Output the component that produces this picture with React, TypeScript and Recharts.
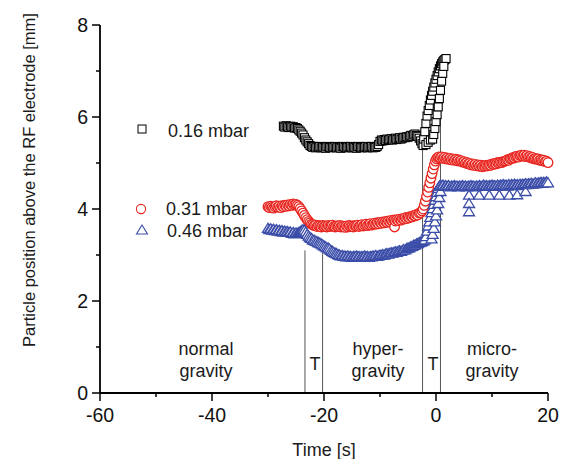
import React from 'react';
import { ComposedChart, Scatter, XAxis, YAxis, ReferenceLine, Customized } from 'recharts';

// Time [s], position [mm] — 0.16 mbar (black squares)
const black016: [number, number][] = [
  [-27.25, 5.80], [-27.0, 5.78], [-26.75, 5.81], [-26.5, 5.79], [-26.25, 5.77], [-26.0, 5.80],
  [-25.75, 5.78], [-25.5, 5.79], [-25.25, 5.76], [-25.0, 5.77], [-24.75, 5.75], [-24.5, 5.72],
  [-24.25, 5.69], [-24.0, 5.65], [-23.75, 5.61], [-23.5, 5.55], [-23.25, 5.50], [-23.0, 5.46],
  [-22.75, 5.42], [-22.5, 5.38], [-22.25, 5.36], [-22.0, 5.34], [-21.75, 5.36], [-21.5, 5.33],
  [-21.25, 5.35], [-21.0, 5.34], [-20.75, 5.36], [-20.5, 5.33], [-20.25, 5.35], [-20.0, 5.34],
  [-19.75, 5.32], [-19.5, 5.35], [-19.25, 5.36], [-19.0, 5.34], [-18.75, 5.33], [-18.5, 5.35],
  [-18.25, 5.34], [-18.0, 5.36], [-17.75, 5.33], [-17.5, 5.35], [-17.25, 5.34], [-17.0, 5.32],
  [-16.75, 5.35], [-16.5, 5.36], [-16.25, 5.34], [-16.0, 5.33], [-15.75, 5.35], [-15.5, 5.34],
  [-15.25, 5.36], [-15.0, 5.33], [-14.75, 5.35], [-14.5, 5.34], [-14.25, 5.32], [-14.0, 5.35],
  [-13.75, 5.36], [-13.5, 5.34], [-13.25, 5.33], [-13.0, 5.35], [-12.75, 5.34], [-12.5, 5.36],
  [-12.25, 5.33], [-12.0, 5.35], [-11.75, 5.34], [-11.5, 5.36], [-11.25, 5.33], [-11.0, 5.35],
  [-10.75, 5.34], [-10.5, 5.36], [-10.25, 5.40], [-10.0, 5.47], [-9.75, 5.50], [-9.5, 5.48],
  [-9.25, 5.51], [-9.0, 5.49], [-8.75, 5.52], [-8.5, 5.50], [-8.25, 5.51], [-8.0, 5.53],
  [-7.75, 5.50], [-7.5, 5.52], [-7.25, 5.54], [-7.0, 5.51], [-6.75, 5.53], [-6.5, 5.55],
  [-6.25, 5.52], [-6.0, 5.54], [-5.75, 5.56], [-5.5, 5.55], [-5.25, 5.57], [-5.0, 5.56],
  [-4.75, 5.58], [-4.5, 5.60], [-4.25, 5.58], [-4.0, 5.61], [-3.75, 5.63], [-3.5, 5.60],
  [-3.25, 5.58], [-3.0, 5.54], [-2.75, 5.48], [-2.5, 5.42], [-2.3, 5.38],
  [-2.2, 5.52], [-2.0, 5.68], [-1.8, 5.86], [-1.6, 6.02], [-1.4, 6.14], [-1.2, 6.25],
  [-1.0, 6.37], [-0.8, 6.47], [-0.6, 6.56], [-0.4, 6.65], [-0.2, 6.74], [0.0, 6.82],
  [0.2, 6.90], [0.4, 6.98], [0.6, 7.05], [0.8, 7.11], [1.0, 7.16], [1.2, 7.20],
  [1.4, 7.23], [1.6, 7.25], [1.8, 7.27],
  [-1.8, 5.40], [-1.4, 5.45], [-1.0, 5.50], [-0.6, 5.52], [-0.4, 5.62], [-0.2, 5.75],
  [0.0, 5.90], [0.2, 6.05], [0.4, 6.22], [0.6, 6.40], [0.8, 6.58], [1.0, 6.78],
  [1.2, 6.95], [1.4, 7.10],
];

// 0.31 mbar (red circles)
const red031: [number, number][] = [
  [-30.0, 4.05], [-29.75, 4.03], [-29.5, 4.06], [-29.25, 4.04], [-29.0, 4.02], [-28.75, 4.05],
  [-28.5, 4.07], [-28.25, 4.04], [-28.0, 4.06], [-27.75, 4.03], [-27.5, 4.07], [-27.25, 4.05],
  [-27.0, 4.08], [-26.75, 4.06], [-26.5, 4.09], [-26.25, 4.07], [-26.0, 4.10], [-25.75, 4.08],
  [-25.5, 4.11], [-25.25, 4.09], [-25.0, 4.10], [-24.75, 4.08], [-24.5, 4.05], [-24.25, 4.01],
  [-24.0, 3.96], [-23.75, 3.91], [-23.5, 3.86], [-23.25, 3.81], [-23.0, 3.77], [-22.75, 3.73],
  [-22.5, 3.70], [-22.25, 3.67], [-22.0, 3.66], [-21.75, 3.64], [-21.5, 3.65], [-21.25, 3.62],
  [-21.0, 3.64], [-20.75, 3.63], [-20.5, 3.61], [-20.25, 3.64], [-20.0, 3.62], [-19.75, 3.63],
  [-19.5, 3.61], [-19.25, 3.64], [-19.0, 3.62], [-18.75, 3.63], [-18.5, 3.65], [-18.25, 3.62],
  [-18.0, 3.61], [-17.75, 3.63], [-17.5, 3.62], [-17.25, 3.64], [-17.0, 3.61], [-16.75, 3.63],
  [-16.5, 3.62], [-16.25, 3.60], [-16.0, 3.63], [-15.75, 3.61], [-15.5, 3.64], [-15.25, 3.62],
  [-15.0, 3.63], [-14.75, 3.61], [-14.5, 3.64], [-14.25, 3.63], [-14.0, 3.65], [-13.75, 3.62],
  [-13.5, 3.64], [-13.25, 3.66], [-13.0, 3.63], [-12.75, 3.65], [-12.5, 3.67], [-12.25, 3.64],
  [-12.0, 3.66], [-11.75, 3.68], [-11.5, 3.65], [-11.25, 3.67], [-11.0, 3.69], [-10.75, 3.67],
  [-10.5, 3.70], [-10.25, 3.68], [-10.0, 3.71], [-9.75, 3.69], [-9.5, 3.72], [-9.25, 3.70],
  [-9.0, 3.73], [-8.75, 3.71], [-8.5, 3.74], [-8.25, 3.72], [-8.0, 3.75], [-7.75, 3.73],
  [-7.5, 3.76], [-7.4, 3.61], [-7.25, 3.74], [-7.0, 3.77], [-6.75, 3.75], [-6.5, 3.78],
  [-6.25, 3.76], [-6.0, 3.79], [-5.75, 3.78], [-5.5, 3.81], [-5.25, 3.79], [-5.0, 3.82],
  [-4.75, 3.81], [-4.5, 3.84], [-4.25, 3.83], [-4.0, 3.86], [-3.75, 3.85], [-3.5, 3.88],
  [-3.25, 3.87], [-3.0, 3.91], [-2.75, 3.92], [-2.5, 3.96], [-2.3, 4.00],
  [-2.1, 4.08], [-1.9, 4.17], [-1.7, 4.27], [-1.5, 4.37], [-1.3, 4.47], [-1.1, 4.57],
  [-0.9, 4.67], [-0.7, 4.77], [-0.5, 4.87], [-0.3, 4.96], [-0.1, 5.04], [0.1, 5.09],
  [0.3, 5.12], [0.5, 5.13], [0.75, 5.11], [1.0, 5.13], [1.25, 5.10], [1.5, 5.12],
  [1.75, 5.09], [2.0, 5.11], [2.25, 5.08], [2.5, 5.10], [2.75, 5.07], [3.0, 5.09],
  [3.25, 5.06], [3.5, 5.08], [3.75, 5.05], [4.0, 5.07], [4.25, 5.04], [4.5, 5.05],
  [4.75, 5.02], [5.0, 5.03], [5.25, 5.00], [5.5, 5.01], [5.75, 4.98], [6.0, 4.99],
  [6.25, 4.96], [6.5, 4.98], [6.75, 4.95], [7.0, 4.97], [7.25, 4.94], [7.5, 4.96],
  [7.75, 4.93], [8.0, 4.95], [8.25, 4.92], [8.5, 4.94], [8.75, 4.93], [9.0, 4.95],
  [9.25, 4.94], [9.5, 4.96], [9.75, 4.95], [10.0, 4.98], [10.25, 4.97], [10.5, 4.99],
  [10.75, 4.98], [11.0, 5.01], [11.25, 5.00], [11.5, 5.02], [11.75, 5.01], [12.0, 5.03],
  [12.25, 5.04], [12.5, 5.05], [12.75, 5.07], [13.0, 5.06], [13.25, 5.09], [13.5, 5.10],
  [13.75, 5.12], [14.0, 5.11], [14.25, 5.14], [14.5, 5.15], [14.75, 5.13], [15.0, 5.16],
  [15.25, 5.17], [15.5, 5.15], [15.75, 5.17], [16.0, 5.14], [16.25, 5.16], [16.5, 5.13],
  [16.75, 5.14], [17.0, 5.11], [17.25, 5.12], [17.5, 5.09], [17.75, 5.10], [18.0, 5.08],
  [18.25, 5.09], [18.5, 5.06], [18.75, 5.07], [19.0, 5.05], [19.25, 5.06], [19.5, 5.03],
  [19.75, 5.04], [20.0, 5.01],
];

// 0.46 mbar (blue triangles)
const blue046: [number, number][] = [
  [-30.0, 3.58], [-29.75, 3.55], [-29.5, 3.57], [-29.25, 3.54], [-29.0, 3.56], [-28.75, 3.53],
  [-28.5, 3.55], [-28.25, 3.52], [-28.0, 3.54], [-27.75, 3.51], [-27.5, 3.53], [-27.25, 3.50],
  [-27.0, 3.52], [-26.75, 3.50], [-26.5, 3.51], [-26.25, 3.49], [-26.0, 3.50], [-25.75, 3.47],
  [-25.5, 3.49], [-25.25, 3.46], [-25.0, 3.48], [-24.75, 3.47], [-24.5, 3.49], [-24.25, 3.51],
  [-24.0, 3.53], [-23.75, 3.55], [-23.5, 3.54], [-23.25, 3.50], [-23.0, 3.45], [-22.75, 3.41],
  [-22.5, 3.38], [-22.25, 3.36], [-22.0, 3.33], [-21.75, 3.32], [-21.5, 3.30], [-21.25, 3.29],
  [-21.0, 3.27], [-20.75, 3.26], [-20.5, 3.24], [-20.25, 3.22], [-20.0, 3.20], [-19.75, 3.18],
  [-19.5, 3.16], [-19.25, 3.15], [-19.0, 3.13], [-18.75, 3.10], [-18.5, 3.08], [-18.25, 3.06],
  [-18.0, 3.04], [-17.75, 3.03], [-17.5, 3.01], [-17.25, 3.00], [-17.0, 2.98], [-16.75, 2.99],
  [-16.5, 2.97], [-16.25, 2.98], [-16.0, 2.96], [-15.75, 2.98], [-15.5, 2.96], [-15.25, 2.97],
  [-15.0, 2.95], [-14.75, 2.97], [-14.5, 2.96], [-14.25, 2.98], [-14.0, 2.96], [-13.75, 2.97],
  [-13.5, 2.95], [-13.25, 2.97], [-13.0, 2.96], [-12.75, 2.98], [-12.5, 2.96], [-12.25, 2.97],
  [-12.0, 2.95], [-11.75, 2.97], [-11.5, 2.96], [-11.25, 2.98], [-11.0, 2.97], [-10.75, 2.99],
  [-10.5, 2.97], [-10.25, 2.98], [-10.0, 3.00], [-9.75, 2.99], [-9.5, 3.01], [-9.25, 3.00],
  [-9.0, 3.02], [-8.75, 3.03], [-8.5, 3.02], [-8.25, 3.04], [-8.0, 3.05], [-7.75, 3.04],
  [-7.5, 3.06], [-7.25, 3.07], [-7.0, 3.06], [-6.75, 3.08], [-6.5, 3.09], [-6.25, 3.08],
  [-6.0, 3.10], [-5.75, 3.12], [-5.5, 3.11], [-5.25, 3.14], [-5.0, 3.15], [-4.75, 3.16],
  [-4.5, 3.18], [-4.25, 3.19], [-4.0, 3.21], [-3.75, 3.22], [-3.5, 3.24], [-3.25, 3.25],
  [-3.0, 3.27], [-2.75, 3.28], [-2.5, 3.29], [-2.25, 3.31], [-2.0, 3.33],
  [-1.8, 3.40], [-1.6, 3.52], [-1.4, 3.63], [-1.2, 3.72], [-1.0, 3.82], [-0.8, 3.92],
  [-0.6, 4.01], [-0.4, 4.10], [-0.2, 4.19], [0.0, 4.27], [0.2, 4.36], [0.4, 4.45],
  [0.6, 4.50],
  [-0.8, 3.35], [-0.6, 3.45], [-0.4, 3.58], [-0.2, 3.72], [0.0, 3.85], [0.2, 3.98],
  [0.4, 4.12], [0.6, 4.25], [0.8, 4.38],
  [0.8, 4.52], [1.0, 4.50], [1.25, 4.52], [1.5, 4.49], [1.75, 4.51], [2.0, 4.49],
  [2.25, 4.51], [2.5, 4.48], [2.75, 4.50], [3.0, 4.49], [3.25, 4.51], [3.5, 4.49],
  [3.75, 4.50], [4.0, 4.48], [4.25, 4.50], [4.5, 4.49], [4.75, 4.51], [5.0, 4.49],
  [5.25, 4.50], [5.5, 4.48], [5.75, 4.50], [5.9, 4.30], [5.9, 4.12], [5.9, 3.94],
  [6.0, 4.49], [6.25, 4.51], [6.5, 4.49], [6.75, 4.50], [7.0, 4.48], [7.25, 4.50],
  [7.5, 4.49], [7.7, 4.30], [7.75, 4.51], [8.0, 4.49], [8.25, 4.50], [8.5, 4.52],
  [8.75, 4.50], [9.0, 4.51], [9.25, 4.49], [9.5, 4.30], [9.5, 4.51], [9.75, 4.50],
  [10.0, 4.52], [10.25, 4.50], [10.5, 4.51], [10.75, 4.49], [11.0, 4.52], [11.3, 4.30],
  [11.25, 4.50], [11.5, 4.52], [11.75, 4.51], [12.0, 4.53], [12.25, 4.51], [12.5, 4.52],
  [12.75, 4.50], [13.0, 4.53], [13.1, 4.30], [13.25, 4.51], [13.5, 4.53], [13.75, 4.52],
  [14.0, 4.54], [14.25, 4.52], [14.5, 4.31], [14.5, 4.53], [14.75, 4.51], [15.0, 4.54],
  [15.25, 4.52], [15.5, 4.54], [15.75, 4.53], [16.0, 4.38], [16.0, 4.55], [16.25, 4.53],
  [16.5, 4.55], [16.75, 4.54], [17.0, 4.56], [17.25, 4.54], [17.5, 4.55], [17.75, 4.57],
  [18.0, 4.55], [18.25, 4.57], [18.5, 4.56], [18.75, 4.58], [19.0, 4.56], [19.25, 4.58],
  [19.5, 4.57], [19.75, 4.59], [20.0, 4.57],
];

const xTicks = [-60, -50, -40, -30, -20, -10, 0, 10, 20];
const yTicks = [0, 1, 2, 3, 4, 5, 6, 7, 8];
const xLabelTicks = [-60, -40, -20, 0, 20];
const yLabelTicks = [0, 2, 4, 6, 8];
const transitionTimes = [-23.4, -20.25, -2.4, 0.8];
const transitionTops = [3.1, 3.05, 5.3, 6.3];

const FONT = '"Liberation Sans", Arial, sans-serif';
const RED = '#e8251f';
const BLUE = '#3a4ca8';

const toPoints = (arr: [number, number][]) => arr.map(([t, y]) => ({ t, y }));

const SquareShape = (p: any) => (
  <rect x={p.cx - 4} y={p.cy - 4} width={8} height={8} fill="#fff" stroke="#000" strokeWidth={1.1} />
);
const CircleShape = (p: any) => (
  <circle cx={p.cx} cy={p.cy} r={4.8} fill="#fff" stroke={RED} strokeWidth={1.3} />
);
const TriangleShape = (p: any) => (
  <path
    d={`M${p.cx},${p.cy - 5} L${p.cx + 5.5},${p.cy + 4} L${p.cx - 5.5},${p.cy + 4} Z`}
    fill="#fff"
    stroke={BLUE}
    strokeWidth={1.3}
  />
);

const BottomTick = (p: any) => {
  const v = p.payload.value;
  const major = xLabelTicks.includes(v);
  return (
    <g>
      <line x1={p.x} x2={p.x} y1={p.y} y2={p.y + (major ? 8 : 4)} stroke="#000" strokeWidth={1.5} />
      {major && (
        <text x={p.x} y={p.y + 29} textAnchor="middle" fontFamily={FONT} fontSize={19.5} fill="#111">
          {v}
        </text>
      )}
    </g>
  );
};
const LeftTick = (p: any) => {
  const v = p.payload.value;
  const major = yLabelTicks.includes(v);
  return (
    <g>
      <line x1={p.x} x2={p.x - (major ? 8 : 4)} y1={p.y} y2={p.y} stroke="#000" strokeWidth={1.5} />
      {major && (
        <text x={p.x - 12} y={p.y + 7} textAnchor="end" fontFamily={FONT} fontSize={19.5} fill="#111">
          {v}
        </text>
      )}
    </g>
  );
};
const TopTick = (p: any) => {
  const major = xLabelTicks.includes(p.payload.value);
  return <line x1={p.x} x2={p.x} y1={p.y} y2={p.y + (major ? 8 : 4)} stroke="#000" strokeWidth={1.5} />;
};
const RightTick = (p: any) => {
  const major = yLabelTicks.includes(p.payload.value);
  return <line x1={p.x} x2={p.x - (major ? 8 : 4)} y1={p.y} y2={p.y} stroke="#000" strokeWidth={1.5} />;
};

const Overlay = () => (
  <g fontFamily={FONT} fill="#1a1a1a">
    <text transform="rotate(-90)" x={-172} y={27} textAnchor="middle" fontSize={16.5}>
      Particle position above the RF electrode [mm]
    </text>
    <text x={316} y={448} textAnchor="middle" fontSize={18}>Time [s]</text>
    <g fontSize={18} textAnchor="middle">
      <text x={198} y={347}>normal</text>
      <text x={198} y={369}>gravity</text>
      <text x={307} y={362}>T</text>
      <text x={370} y={347}>hyper-</text>
      <text x={370} y={369}>gravity</text>
      <text x={425} y={362}>T</text>
      <text x={484} y={347}>micro-</text>
      <text x={484} y={369}>gravity</text>
    </g>
    <g fontSize={18}>
      <rect x={130} y={117} width={8} height={8} fill="#fff" stroke="#000" strokeWidth={1} />
      <text x={160} y={128.5}>0.16 mbar</text>
      <circle cx={133} cy={201} r={4.6} fill="#fff" stroke={RED} strokeWidth={1.1} />
      <text x={158} y={207}>0.31 mbar</text>
      <path d="M134,217 L139.5,226 L128.5,226 Z" fill="#fff" stroke={BLUE} strokeWidth={1.1} />
      <text x={159} y={228.7}>0.46 mbar</text>
    </g>
  </g>
);

export default function App() {
  return (
    <ComposedChart width={566} height={451} margin={{ top: 17, right: 26, bottom: 0, left: 0 }}>
      <XAxis
        xAxisId={0}
        dataKey="t"
        type="number"
        domain={[-60, 20]}
        ticks={xTicks}
        interval={0}
        height={66}
        tickSize={0}
        tickMargin={0}
        tickLine={false}
        tick={<BottomTick />}
        axisLine={{ stroke: '#000', strokeWidth: 1.8 }}
      />
      <XAxis
        xAxisId="top"
        orientation="top"
        type="number"
        domain={[-60, 20]}
        ticks={xTicks}
        interval={0}
        height={0}
        tickSize={0}
        tickMargin={0}
        tickLine={false}
        tick={<TopTick />}
        axisLine={{ stroke: '#000', strokeWidth: 1.8 }}
      />
      <YAxis
        yAxisId={0}
        dataKey="y"
        type="number"
        domain={[0, 8]}
        ticks={yTicks}
        interval={0}
        width={92}
        tickSize={0}
        tickMargin={0}
        tickLine={false}
        tick={<LeftTick />}
        axisLine={{ stroke: '#000', strokeWidth: 1.8 }}
      />
      <YAxis
        yAxisId="right"
        orientation="right"
        type="number"
        domain={[0, 8]}
        ticks={yTicks}
        interval={0}
        width={0}
        tickSize={0}
        tickMargin={0}
        tickLine={false}
        tick={<RightTick />}
        axisLine={{ stroke: '#000', strokeWidth: 1.8 }}
      />
      {transitionTimes.map((t, i) => (
        <ReferenceLine
          key={i}
          segment={[{ x: t, y: 0 }, { x: t, y: transitionTops[i] }]}
          stroke="#555"
          strokeWidth={1}
        />
      ))}
      <Scatter data={toPoints(black016)} dataKey="y" shape={SquareShape} isAnimationActive={false} />
      <Scatter data={toPoints(red031)} dataKey="y" shape={CircleShape} isAnimationActive={false} />
      <Scatter data={toPoints(blue046)} dataKey="y" shape={TriangleShape} isAnimationActive={false} />
      <Customized component={Overlay} />
    </ComposedChart>
  );
}
